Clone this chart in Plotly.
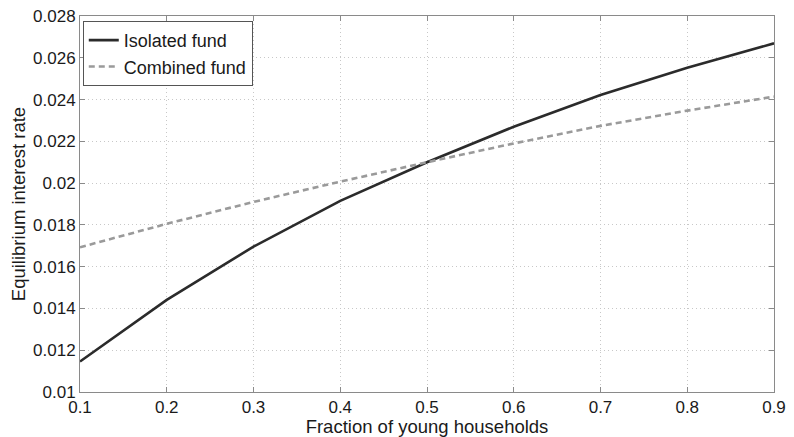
import plotly.graph_objects as go

fraction_young = [0.1, 0.2, 0.3, 0.4, 0.5, 0.6, 0.7, 0.8, 0.9]
isolated_fund = [0.01146, 0.01441, 0.01696, 0.01915, 0.02100, 0.02270, 0.02422, 0.02552, 0.02669]
combined_fund = [0.01693, 0.01805, 0.01910, 0.02007, 0.02100, 0.02190, 0.02274, 0.02347, 0.02414]

x_ticks = [0.1, 0.2, 0.3, 0.4, 0.5, 0.6, 0.7, 0.8, 0.9]
y_ticks = [0.01, 0.012, 0.014, 0.016, 0.018, 0.02, 0.022, 0.024, 0.026, 0.028]
y_tick_labels = ["0.01", "0.012", "0.014", "0.016", "0.018", "0.02", "0.022", "0.024", "0.026", "0.028"]

font_family = "Liberation Sans, Arial, Helvetica, sans-serif"
txt = "#1a1a1a"

fig = go.Figure()
fig.add_trace(go.Scatter(x=fraction_young, y=isolated_fund, mode="lines", name="Isolated fund",
                         line=dict(color="#2b2b2b", width=2.6)))
fig.add_trace(go.Scatter(x=fraction_young, y=combined_fund, mode="lines", name="Combined fund",
                         line=dict(color="#9a9a9a", width=2.6, dash="6px,4px")))

axis_common = dict(showline=True, linecolor="#8a8a8a", linewidth=1, mirror="ticks",
                   ticks="inside", ticklen=5, tickcolor="#8a8a8a",
                   showgrid=True, gridcolor="#c8c8c8", griddash="1px,3px", gridwidth=1,
                   zeroline=False, automargin=False, ticklabeloverflow="allow",
                   tickfont=dict(size=17, color=txt, family=font_family))

fig.update_xaxes(range=[0.1, 0.9], tickvals=x_ticks, ticktext=[str(v) for v in x_ticks],
                 title=dict(text="Fraction of young households", font=dict(size=18.5, color=txt, family=font_family), standoff=0),
                 **axis_common)
fig.update_yaxes(range=[0.01, 0.028], tickvals=y_ticks, ticktext=y_tick_labels,
                 title=dict(text="Equilibrium interest rate", font=dict(size=18.5, color=txt, family=font_family), standoff=5),
                 **axis_common)

# the page has an 8px body margin, so the figure is offset by 8px
fig.update_layout(
    width=786, height=429,
    margin=dict(l=72, r=20, t=8, b=45, autoexpand=False),
    plot_bgcolor="white", paper_bgcolor="white",
    font=dict(family=font_family, size=17, color=txt),
    legend=dict(x=0.004, y=0.987, xanchor="left", yanchor="top",
                bgcolor="white", bordercolor="#555555", borderwidth=1,
                font=dict(size=18, color=txt, family=font_family),
                tracegroupgap=0, itemwidth=30),
    showlegend=True,
)

fig.write_html("out.html")
